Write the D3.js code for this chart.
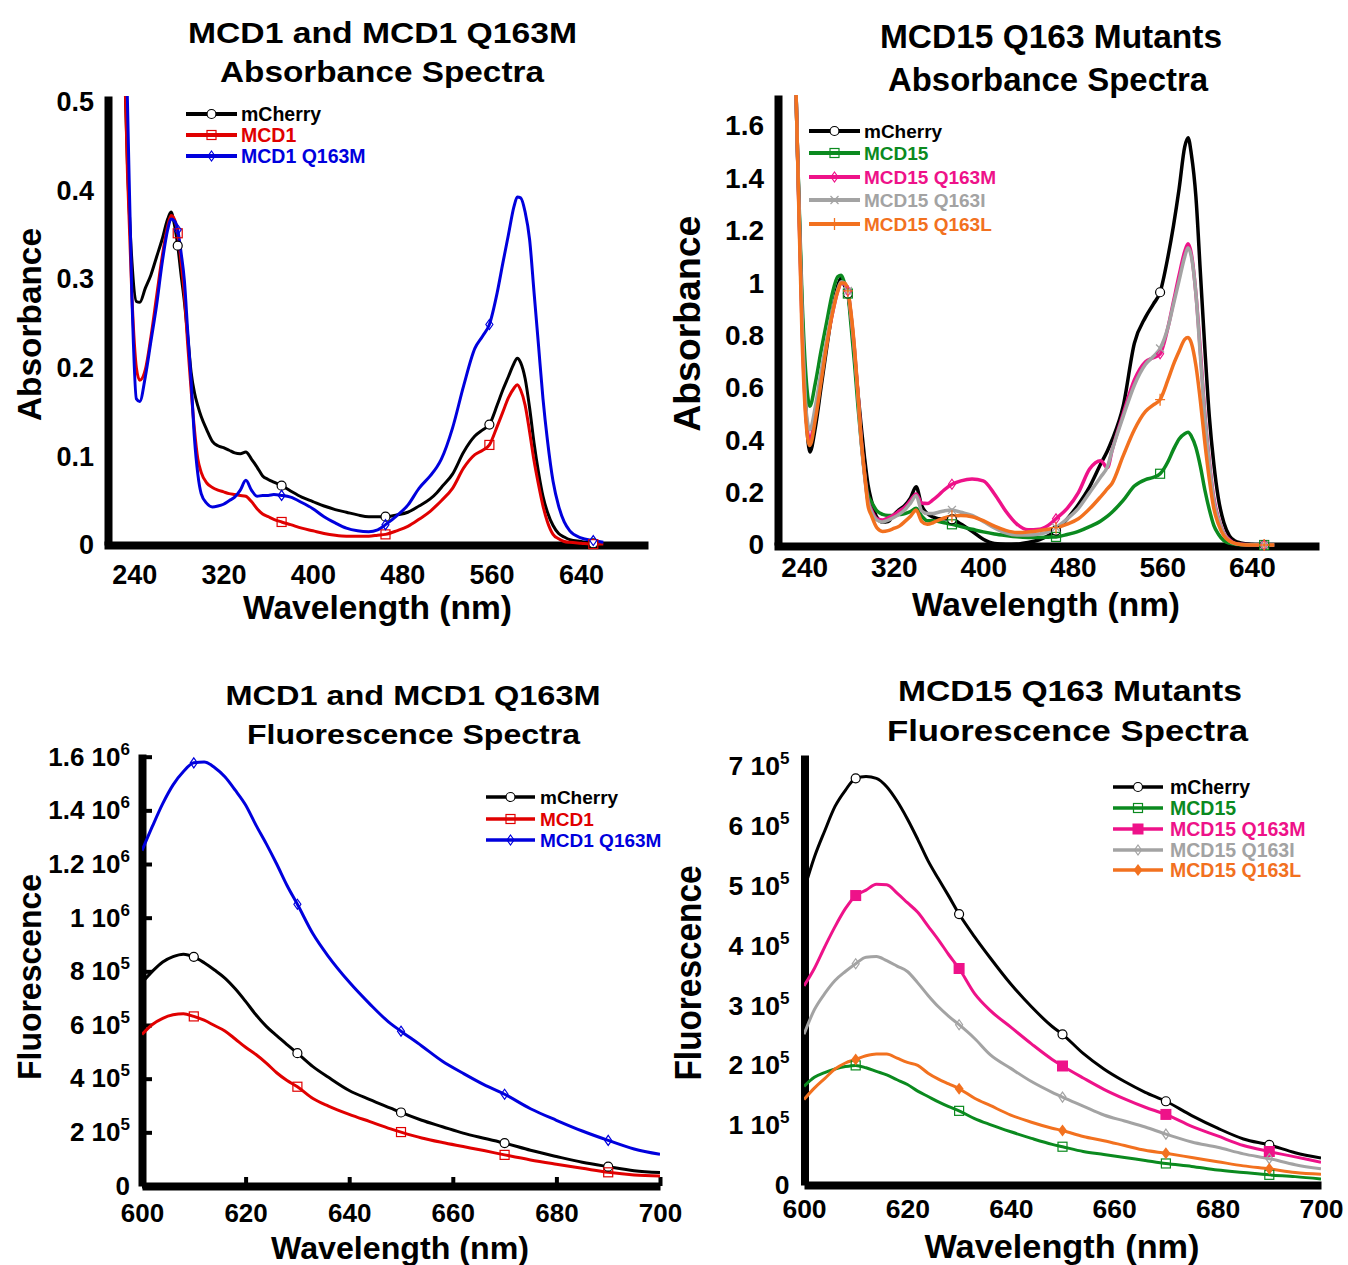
<!DOCTYPE html>
<html><head><meta charset="utf-8">
<script src="https://cdn.jsdelivr.net/npm/d3@7"></script>
<style>body{margin:0;background:#fff}svg{display:block}</style>
</head><body>
<svg id="c" width="1348" height="1265"></svg>
<script>
// ---------------- DATA ----------------
const absWl = [230,234,238,242,245,250,255,260,265,270,273,276,279,282,285,288,291,294,297,300,305,310,315,320,325,330,335,340,345,350,355,360,365,372,380,390,400,410,420,430,440,450,458,465,475,485,495,505,511,515,525,535,545,552,558,565,570,575,580,583,586,590,594,598,602,606,610,615,620,625,630,640,651,660];

const abs1_mCherry = [0.60,0.43,0.32,0.275,0.274,0.29,0.305,0.325,0.345,0.368,0.376,0.362,0.338,0.305,0.274,0.235,0.195,0.172,0.157,0.145,0.130,0.117,0.112,0.110,0.107,0.104,0.103,0.105,0.097,0.088,0.078,0.074,0.071,0.067,0.061,0.054,0.049,0.044,0.040,0.037,0.034,0.032,0.032,0.032,0.034,0.037,0.044,0.052,0.059,0.065,0.080,0.105,0.123,0.130,0.136,0.158,0.175,0.190,0.205,0.211,0.206,0.188,0.155,0.115,0.082,0.055,0.037,0.022,0.013,0.009,0.006,0.004,0.002,0.001];
const abs1_MCD1 = [0.62,0.42,0.28,0.20,0.186,0.198,0.235,0.28,0.325,0.36,0.372,0.368,0.352,0.32,0.282,0.225,0.175,0.13,0.097,0.082,0.070,0.065,0.062,0.060,0.058,0.057,0.056,0.055,0.049,0.041,0.035,0.032,0.029,0.026,0.023,0.019,0.016,0.013,0.011,0.010,0.010,0.010,0.011,0.012,0.016,0.021,0.029,0.038,0.045,0.050,0.064,0.087,0.102,0.107,0.113,0.134,0.150,0.166,0.177,0.181,0.175,0.158,0.128,0.095,0.068,0.044,0.026,0.012,0.007,0.004,0.003,0.002,0.001,0.001];
const abs1_Q163M = [0.70,0.50,0.28,0.165,0.162,0.19,0.23,0.27,0.318,0.356,0.368,0.366,0.356,0.33,0.298,0.24,0.185,0.12,0.08,0.058,0.047,0.043,0.044,0.046,0.050,0.054,0.062,0.073,0.062,0.055,0.056,0.056,0.057,0.056,0.054,0.048,0.041,0.032,0.025,0.019,0.016,0.015,0.017,0.023,0.033,0.045,0.064,0.078,0.088,0.097,0.132,0.18,0.222,0.236,0.249,0.285,0.318,0.350,0.382,0.393,0.392,0.376,0.345,0.285,0.225,0.165,0.118,0.072,0.044,0.026,0.016,0.008,0.005,0.003];

const abs2_mCherry = [2.2,1.5,0.9,0.48,0.355,0.45,0.60,0.75,0.89,0.99,1.02,0.99,0.96,0.86,0.72,0.58,0.45,0.33,0.23,0.17,0.105,0.088,0.09,0.115,0.135,0.152,0.18,0.222,0.15,0.12,0.107,0.10,0.10,0.098,0.08,0.052,0.022,0.006,0.003,0.004,0.01,0.02,0.035,0.055,0.10,0.155,0.222,0.31,0.36,0.40,0.53,0.77,0.87,0.92,0.965,1.10,1.22,1.36,1.52,1.555,1.49,1.33,1.04,0.75,0.49,0.31,0.18,0.085,0.035,0.015,0.008,0.002,0,0];
const abs2_MCD15 = [2.2,1.5,0.95,0.62,0.53,0.62,0.74,0.85,0.958,1.025,1.03,1.0,0.96,0.83,0.69,0.53,0.39,0.27,0.19,0.165,0.13,0.117,0.113,0.113,0.116,0.12,0.128,0.14,0.11,0.093,0.093,0.09,0.085,0.079,0.07,0.06,0.05,0.042,0.036,0.031,0.029,0.029,0.03,0.031,0.04,0.052,0.07,0.092,0.11,0.125,0.17,0.225,0.25,0.258,0.272,0.318,0.365,0.405,0.425,0.43,0.415,0.372,0.30,0.21,0.135,0.075,0.042,0.017,0.007,0.003,0.001,0,0,0];
const abs2_Q163M = [2.2,1.5,0.85,0.47,0.40,0.50,0.64,0.77,0.88,0.97,1.0,0.995,0.97,0.87,0.74,0.58,0.40,0.27,0.17,0.135,0.10,0.095,0.104,0.115,0.13,0.145,0.17,0.195,0.16,0.158,0.172,0.19,0.21,0.232,0.245,0.252,0.245,0.195,0.13,0.08,0.058,0.06,0.075,0.10,0.14,0.2,0.29,0.322,0.295,0.36,0.50,0.63,0.70,0.715,0.73,0.83,0.93,1.03,1.12,1.15,1.11,0.96,0.74,0.50,0.32,0.18,0.105,0.045,0.02,0.006,0.003,0.001,0,0];
const abs2_Q163I = [2.2,1.5,0.88,0.5,0.44,0.53,0.66,0.78,0.89,0.975,1.005,1.0,0.97,0.87,0.74,0.57,0.39,0.26,0.165,0.128,0.095,0.088,0.095,0.105,0.118,0.135,0.16,0.188,0.13,0.12,0.12,0.125,0.13,0.134,0.125,0.113,0.09,0.065,0.046,0.038,0.038,0.042,0.05,0.067,0.10,0.14,0.20,0.26,0.30,0.36,0.49,0.61,0.69,0.72,0.75,0.83,0.92,1.01,1.10,1.135,1.10,0.96,0.72,0.49,0.31,0.17,0.10,0.042,0.016,0.005,0.002,0.001,0,0];
const abs2_Q163L = [2.2,1.5,0.8,0.45,0.38,0.48,0.62,0.76,0.88,0.97,1.0,1.0,0.97,0.88,0.75,0.58,0.40,0.27,0.15,0.113,0.065,0.052,0.055,0.063,0.072,0.09,0.11,0.134,0.09,0.079,0.085,0.095,0.103,0.11,0.113,0.108,0.093,0.072,0.056,0.048,0.05,0.055,0.06,0.066,0.08,0.10,0.138,0.185,0.215,0.235,0.34,0.44,0.51,0.535,0.555,0.63,0.69,0.74,0.785,0.792,0.77,0.685,0.55,0.39,0.25,0.14,0.08,0.035,0.015,0.006,0.002,0,0,0];

const fluWl = [600,602,604,606,608,610,612,614,616,618,620,622,624,626,628,630,633,636,640,644,648,650,654,658,662,666,670,675,680,685,690,695,700];

const flu1_mCherry = [7.58,8.0,8.35,8.55,8.64,8.54,8.32,8.05,7.75,7.35,6.88,6.38,5.95,5.60,5.27,4.95,4.45,4.05,3.56,3.22,2.90,2.74,2.45,2.21,1.97,1.78,1.60,1.33,1.10,0.885,0.72,0.57,0.50].map(v => v * 1e5);
const flu1_MCD1 = [5.65,6.02,6.25,6.38,6.42,6.32,6.18,5.98,5.78,5.48,5.17,4.90,4.58,4.22,3.93,3.70,3.26,2.98,2.67,2.40,2.13,2.01,1.79,1.62,1.47,1.32,1.16,0.97,0.81,0.66,0.51,0.41,0.37].map(v => v * 1e5);
const flu1_Q163M = [12.5,13.4,14.25,14.95,15.45,15.77,15.8,15.6,15.25,14.75,14.2,13.45,12.75,12.0,11.2,10.5,9.4,8.55,7.6,6.78,6.05,5.77,5.22,4.65,4.2,3.78,3.42,2.88,2.45,2.05,1.70,1.38,1.18].map(v => v * 1e5);

const flu2_mCherry = [4.93,5.48,5.92,6.33,6.6,6.8,6.83,6.8,6.66,6.42,6.12,5.78,5.42,5.12,4.83,4.53,4.15,3.80,3.36,2.98,2.65,2.52,2.20,1.94,1.73,1.55,1.40,1.16,0.95,0.77,0.67,0.54,0.45].map(v => v * 1e5);
const flu2_MCD15 = [1.65,1.80,1.88,1.94,1.98,2.00,1.96,1.90,1.84,1.76,1.68,1.57,1.48,1.39,1.31,1.24,1.11,1.01,0.89,0.78,0.68,0.64,0.56,0.51,0.46,0.41,0.36,0.31,0.25,0.21,0.17,0.14,0.10].map(v => v * 1e5);
const flu2_Q163M = [3.33,3.62,3.98,4.32,4.62,4.84,4.93,5.03,5.02,4.88,4.72,4.56,4.33,4.10,3.85,3.62,3.20,2.92,2.64,2.36,2.10,1.99,1.79,1.60,1.44,1.30,1.18,0.98,0.82,0.66,0.56,0.47,0.38].map(v => v * 1e5);
const flu2_Q163I = [2.52,2.93,3.2,3.42,3.57,3.70,3.81,3.82,3.75,3.66,3.57,3.38,3.17,2.98,2.82,2.68,2.45,2.18,1.95,1.73,1.55,1.47,1.32,1.17,1.07,0.97,0.85,0.72,0.63,0.52,0.44,0.34,0.27].map(v => v * 1e5);
const flu2_Q163L = [1.43,1.62,1.78,1.94,2.04,2.10,2.16,2.19,2.19,2.12,2.05,2.00,1.87,1.77,1.69,1.61,1.45,1.33,1.17,1.05,0.95,0.91,0.81,0.74,0.66,0.58,0.53,0.46,0.39,0.32,0.27,0.21,0.18].map(v => v * 1e5);

const absMarkerWl = [279,372,465,558,651];
const fluMarkerWl = [610,630,650,670,690];
const absXTicks = [240,320,400,480,560,640];
const abs1YTicks = [0,0.1,0.2,0.3,0.4,0.5];
const abs2YTicks = [0,0.2,0.4,0.6,0.8,1,1.2,1.4,1.6];
const fluXTicks = [600,620,640,660,680,700];
const flu1YTicks = [0,2e5,4e5,6e5,8e5,1e6,1.2e6,1.4e6,1.6e6];
const flu2YTicks = [0,1e5,2e5,3e5,4e5,5e5,6e5,7e5];

const set1Names = ["mCherry","MCD1","MCD1 Q163M"];
const set2Names = ["mCherry","MCD15","MCD15 Q163M","MCD15 Q163I","MCD15 Q163L"];

// ---------------- STYLE ----------------
const FONT = "'Liberation Sans', Arial, Helvetica, sans-serif";
const C = {black:"#000000", red:"#e00000", blue:"#0000dd", green:"#0b8a1f", pink:"#ee1289", gray:"#a3a3a3", orange:"#f2711f"};

const svg = d3.select("#c");
svg.append("rect").attr("width",1348).attr("height",1265).attr("fill","#fff");

function drawMarker(g, type, color) {
  if (type === "circle") g.append("circle").attr("r",4.5).attr("fill","#fff").attr("stroke",color).attr("stroke-width",1.2);
  else if (type === "square") g.append("rect").attr("x",-4.5).attr("y",-4.5).attr("width",9).attr("height",9).attr("fill","none").attr("stroke",color).attr("stroke-width",1.2);
  else if (type === "fsquare") g.append("rect").attr("x",-5.5).attr("y",-5.5).attr("width",11).attr("height",11).attr("fill",color);
  else if (type === "diamond") g.append("path").attr("d","M0,-5L3.5,0L0,5L-3.5,0Z").attr("fill","none").attr("stroke",color).attr("stroke-width",1.2);
  else if (type === "fdiamond") g.append("path").attr("d","M0,-6L4.5,0L0,6L-4.5,0Z").attr("fill",color);
  else if (type === "x") g.append("path").attr("d","M-4,-4L4,4M-4,4L4,-4").attr("stroke",color).attr("stroke-width",1.3).attr("fill","none");
  else if (type === "plus") g.append("path").attr("d","M0,-6V6M-5,0H5").attr("stroke",color).attr("stroke-width",1.3).attr("fill","none");
}

function addText(parent, str, opt) {
  const t = parent.append("text").text(str)
    .attr("font-family", FONT).attr("font-weight","bold")
    .attr("font-size", opt.size).attr("fill", opt.color || "#000")
    .attr("text-anchor", opt.anchor || "middle");
  if (opt.width) t.attr("textLength", opt.width).attr("lengthAdjust","spacingAndGlyphs");
  if (opt.rotate) t.attr("transform", `translate(${opt.x},${opt.y}) rotate(-90)`);
  else t.attr("x", opt.x).attr("y", opt.y);
  return t;
}

function sciParts(v) {
  if (v === 0) return null;
  const e = Math.floor(Math.log10(v) + 1e-9);
  const m = +(v / Math.pow(10, e)).toFixed(1);
  return [String(m), String(e)];
}

function drawPanel(c) {
  const g = svg.append("g");
  const x = d3.scaleLinear().domain(c.xDomain).range([c.left, c.right]);
  const y = d3.scaleLinear().domain(c.yDomain).range([c.bottom, c.top]);

  const xa = d3.axisBottom(x).tickValues(c.xTicks).tickSizeInner(c.xTickIn ? -c.xTickIn : 0)
    .tickSizeOuter(0).tickPadding(c.xPad).tickFormat(d3.format("d"));
  const gx = g.append("g").attr("transform", `translate(0,${c.axisY})`).call(xa);
  const ya = d3.axisLeft(y).tickValues(c.yTicks).tickSizeInner(c.yTickIn ? -c.yTickIn : 0)
    .tickSizeOuter(0).tickPadding(c.yPad)
    .tickFormat(c.sci ? (() => "") : (d => String(+d.toFixed(1))));
  const gy = g.append("g").attr("transform", `translate(${c.axisX},0)`).call(ya);
  [gx, gy].forEach(a => {
    a.attr("font-family", FONT).attr("font-weight","bold").attr("font-size", c.tickFont);
    a.select(".domain").attr("stroke","#000").attr("stroke-width",8);
    a.selectAll(".tick line").attr("stroke","#000").attr("stroke-width",4);
    a.selectAll(".tick text").attr("fill","#000");
  });
  if (c.sci) {
    gy.selectAll(".tick text").each(function(d) {
      const t = d3.select(this);
      const p = sciParts(d);
      if (!p) { t.text("0"); return; }
      t.append("tspan").text(p[0] + " 10");
      t.append("tspan").text(p[1]).attr("font-size", c.supFont).attr("dy", -c.supShift);
    });
  }
  gy.select(".domain").raise();

  const id = "clip" + c.id;
  svg.append("clipPath").attr("id", id).append("rect")
    .attr("x", c.left).attr("y", c.top).attr("width", c.right - c.left).attr("height", c.bottom - c.top + 3);

  const line = d3.line().x((d, i) => x(c.wl[i])).y(d => y(d)).curve(d3.curveMonotoneX);
  c.series.forEach(s => {
    g.append("path").attr("d", line(s.values)).attr("fill","none").attr("stroke", s.color)
      .attr("stroke-width", c.lw).attr("stroke-linejoin","round").attr("clip-path", `url(#${id})`);
  });
  c.series.forEach(s => {
    c.wl.forEach((w, i) => {
      if (c.markerWl.includes(w)) {
        const mg = g.append("g").attr("transform", `translate(${x(w)},${y(s.values[i])})`);
        drawMarker(mg, s.marker, s.color);
      }
    });
  });

  const L = c.legend;
  c.series.forEach((s, i) => {
    const ry = L.rows[i];
    g.append("line").attr("x1", L.x1).attr("x2", L.x2).attr("y1", ry).attr("y2", ry)
      .attr("stroke", s.color).attr("stroke-width", L.lw);
    const mg = g.append("g").attr("transform", `translate(${(L.x1 + L.x2) / 2},${ry})`);
    drawMarker(mg, s.marker, s.color);
    addText(g, s.name, {x: L.tx, y: ry + 7, size: L.font, color: s.color, anchor: "start"});
  });

  c.title.lines.forEach((ln, i) => {
    addText(g, ln, {x: c.title.cx[i], y: c.title.base[i], size: c.title.size, width: c.title.widths[i]});
  });
  addText(g, c.xlabel.text, {x: c.xlabel.cx, y: c.xlabel.base, size: c.xlabel.size, width: c.xlabel.width});
  addText(g, c.ylabel.text, {x: c.ylabel.bx, y: c.ylabel.cy, size: c.ylabel.size, width: c.ylabel.width, rotate: true});
}

// ---------------- PANELS ----------------
drawPanel({
  id: 1, wl: absWl, xDomain: [213, 700], left: 104, right: 648,
  yDomain: [0, 0.507], bottom: 545, top: 96, axisY: 545, axisX: 108,
  xTicks: absXTicks, yTicks: abs1YTicks, tickFont: 27, xPad: 20, yPad: 14,
  lw: 3, markerWl: absMarkerWl,
  series: [
    {name: set1Names[0], values: abs1_mCherry, color: C.black, marker: "circle"},
    {name: set1Names[1], values: abs1_MCD1, color: C.red, marker: "square"},
    {name: set1Names[2], values: abs1_Q163M, color: C.blue, marker: "diamond"}
  ],
  legend: {x1: 186, x2: 237, tx: 241, rows: [114, 135, 156], font: 19.5, lw: 4},
  title: {lines: ["MCD1 and MCD1 Q163M", "Absorbance Spectra"], cx: [382.5, 382], base: [43, 82], size: 30, widths: [389, 324]},
  xlabel: {text: "Wavelength (nm)", cx: 377.5, base: 619, size: 33, width: 269},
  ylabel: {text: "Absorbance", bx: 41, cy: 324.5, size: 34, width: 193}
});

drawPanel({
  id: 2, wl: absWl, xDomain: [213, 700], left: 774, right: 1319,
  yDomain: [0, 1.718], bottom: 545, top: 95, axisY: 546, axisX: 778,
  xTicks: absXTicks, yTicks: abs2YTicks, tickFont: 28, xPad: 11, yPad: 14,
  lw: 3.5, markerWl: absMarkerWl,
  series: [
    {name: set2Names[0], values: abs2_mCherry, color: C.black, marker: "circle"},
    {name: set2Names[1], values: abs2_MCD15, color: C.green, marker: "square"},
    {name: set2Names[2], values: abs2_Q163M, color: C.pink, marker: "diamond"},
    {name: set2Names[3], values: abs2_Q163I, color: C.gray, marker: "x"},
    {name: set2Names[4], values: abs2_Q163L, color: C.orange, marker: "plus"}
  ],
  legend: {x1: 809, x2: 860, tx: 864, rows: [131, 153, 177, 200, 224], font: 19, lw: 4},
  title: {lines: ["MCD15 Q163 Mutants", "Absorbance Spectra"], cx: [1051, 1048], base: [48, 91], size: 33, widths: [342, 320]},
  xlabel: {text: "Wavelength (nm)", cx: 1046, base: 616, size: 34, width: 268},
  ylabel: {text: "Absorbance", bx: 700, cy: 323.7, size: 36, width: 216}
});

drawPanel({
  id: 3, wl: fluWl, xDomain: [600, 700], left: 142, right: 660,
  yDomain: [0, 1.61e6], bottom: 1186, top: 754, axisY: 1186, axisX: 142,
  xTicks: fluXTicks, yTicks: flu1YTicks, tickFont: 26, xPad: 18, yPad: 12,
  xTickIn: 9, yTickIn: 10, sci: true, supFont: 17, supShift: 11,
  lw: 3, markerWl: fluMarkerWl,
  series: [
    {name: set1Names[0], values: flu1_mCherry, color: C.black, marker: "circle"},
    {name: set1Names[1], values: flu1_MCD1, color: C.red, marker: "square"},
    {name: set1Names[2], values: flu1_Q163M, color: C.blue, marker: "diamond"}
  ],
  legend: {x1: 486, x2: 535, tx: 540, rows: [797, 819, 840], font: 19, lw: 3.5},
  title: {lines: ["MCD1 and MCD1 Q163M", "Fluorescence Spectra"], cx: [413, 413.5], base: [705, 744], size: 28, widths: [375, 333]},
  xlabel: {text: "Wavelength (nm)", cx: 400, base: 1259, size: 32, width: 258},
  ylabel: {text: "Fluorescence", bx: 41, cy: 977, size: 34, width: 206}
});

drawPanel({
  id: 4, wl: fluWl, xDomain: [600, 700], left: 804, right: 1321,
  yDomain: [0, 7.19e5], bottom: 1185, top: 755, axisY: 1185, axisX: 804.5,
  xTicks: fluXTicks, yTicks: flu2YTicks, tickFont: 26.5, xPad: 14, yPad: 15,
  sci: true, supFont: 17, supShift: 11,
  lw: 3, markerWl: fluMarkerWl,
  series: [
    {name: set2Names[0], values: flu2_mCherry, color: C.black, marker: "circle"},
    {name: set2Names[1], values: flu2_MCD15, color: C.green, marker: "square"},
    {name: set2Names[2], values: flu2_Q163M, color: C.pink, marker: "fsquare"},
    {name: set2Names[3], values: flu2_Q163I, color: C.gray, marker: "diamond"},
    {name: set2Names[4], values: flu2_Q163L, color: C.orange, marker: "fdiamond"}
  ],
  legend: {x1: 1113, x2: 1163, tx: 1170, rows: [787, 808, 829, 850, 870], font: 19.5, lw: 3.5},
  title: {lines: ["MCD15 Q163 Mutants", "Fluorescence Spectra"], cx: [1070, 1067.5], base: [701, 741], size: 30, widths: [344, 361]},
  xlabel: {text: "Wavelength (nm)", cx: 1062, base: 1258, size: 33, width: 275},
  ylabel: {text: "Fluorescence", bx: 701, cy: 973, size: 36, width: 215}
});
</script>
</body></html>
